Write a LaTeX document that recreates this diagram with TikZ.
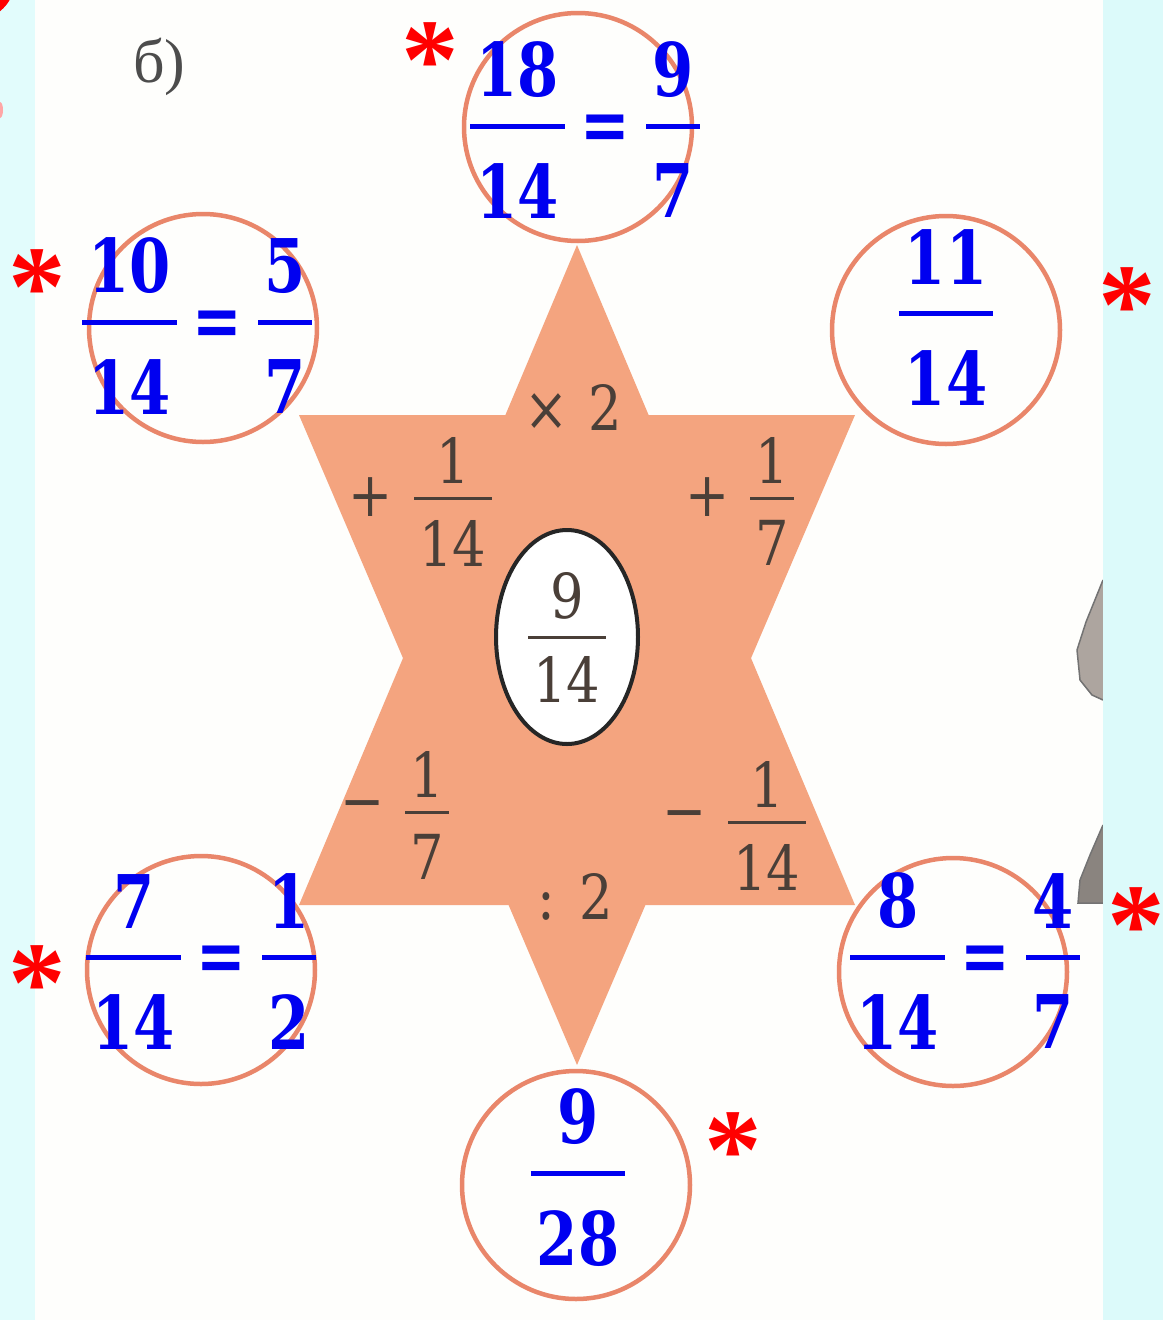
\documentclass[tikz,border=0pt]{standalone}
\usepackage{fontspec}
\usepackage{tikz}
\usetikzlibrary{shapes.geometric}
\newfontfamily\ansfont{DejaVu Serif}[FakeStretch=0.8]
\newfontfamily\opfont{DejaVu Serif}[FakeStretch=0.85]
\newfontfamily\markfont{Liberation Serif}
\definecolor{starfill}{HTML}{F4A47F}
\definecolor{ringcol}{HTML}{E9866A}
\definecolor{ansblue}{HTML}{0000F0}
\definecolor{inkgray}{HTML}{4A3F38}
\definecolor{leftband}{HTML}{E2FCFC}
\definecolor{rightband}{HTML}{DCFAFA}
\definecolor{paper}{HTML}{FEFEFC}
\definecolor{sketch}{HTML}{ADA59F}
% numerator, denominator, bar thickness, overhang, gap above bar, gap below bar
\newdimen\fracwd \newdimen\fracdrop
\newcommand{\fracstack}[6]{%
  \setbox0=\hbox{#1}\setbox2=\hbox{#2}%
  \fracwd=\wd0 \ifdim\wd2>\fracwd \fracwd=\wd2 \fi
  \advance\fracwd by #4\relax \advance\fracwd by #4\relax
  \fracdrop=\ht2 \advance\fracdrop by #6\relax
  \lower\fracdrop\vbox{\offinterlineskip
    \halign{\hfil##\hfil\cr\box0\cr\noalign{\kern#5}\vrule height #3 depth 0pt width \fracwd\cr\noalign{\kern#6}\box2\cr}}}
\newcommand{\ansfrac}[2]{\fracstack{#1}{#2}{5pt}{6pt}{26pt}{35pt}}
\newcommand{\opfrac}[2]{\fracstack{#1}{#2}{3pt}{5pt}{13pt}{21pt}}
\newcommand{\anseq}{\kern16pt\raisebox{-22pt}{=}\kern16pt}

\begin{document}
\begin{tikzpicture}[x=1pt,y=-1pt,
  ring/.style={circle, draw=ringcol, line width=4.5pt, fill=paper, minimum size=228pt, inner sep=0pt},
  answer/.style={ansblue, font=\ansfont\bfseries\fontsize{74}{90}\selectfont, inner sep=0pt, anchor=base},
  starmark/.style={red, font=\markfont\bfseries\fontsize{115}{130}\selectfont, inner sep=0pt, anchor=base},
  oplabel/.style={inkgray, font=\opfont\fontsize{62}{74}\selectfont, inner sep=0pt}]
\useasboundingbox (0,0) rectangle (1163,1320);
\fill[paper] (0,0) rectangle (1163,1320);
\fill[leftband] (0,0) rectangle (35,1320);
\fill[red] (-25,-20) circle (40);
\fill[red!35] (0,110) ellipse (3 and 8);
% bits of a drawing cut off at the right
\filldraw[fill=sketch, draw=black!55, line width=1.5pt] (1103,580) -- (1086,622) -- (1077,650) -- (1080,680) -- (1092,695) -- (1103,700);
\filldraw[fill=sketch!80!black, draw=black!55, line width=1.5pt] (1103,825) -- (1090,855) -- (1080,880) -- (1078,903) -- (1103,903);
\fill[rightband] (1103,0) rectangle (1163,1320);
\node[font=\markfont\fontsize{62}{70}\selectfont, text=black!70, anchor=base west, inner sep=0pt] (part) at (133,82) {б)};
% the star
\coordinate (up) at (577,245);
\coordinate (down) at (577,1065);
\fill[starfill] (up) -- (855,905) -- (299,905) -- cycle;
\fill[starfill] (down) -- (855,415) -- (299,415) -- cycle;
\node[ellipse, draw=black!85, line width=4pt, fill=white, minimum width=142pt, minimum height=214pt, inner sep=0pt] (centre) at (567,637) {};
\node[oplabel, anchor=base] (start) at (567,638.5) {\fracstack{9}{14}{3pt}{5pt}{16pt}{18pt}};
\node[oplabel] (times) at (573,407) {×\kern20pt2};
\node[oplabel] (divide) at (575,897) {:\kern24pt2};
\node[oplabel] (plus-a) at (371,497) {+};
\node[oplabel, anchor=base] (step-a) at (453,499.5) {\opfrac{1}{14}};
\node[oplabel] (plus-b) at (708,497) {+};
\node[oplabel, anchor=base] (step-b) at (772,499.5) {\opfrac{1}{7}};
\node[oplabel] (minus-a) at (363,812) {−};
\node[oplabel, anchor=base] (step-c) at (427,813.5) {\opfrac{1}{7}};
\node[oplabel] (minus-b) at (685,822) {−};
\node[oplabel, anchor=base] (step-d) at (767,823.5) {\opfrac{1}{14}};
% answer circles
\foreach \n/\x/\y in {top/578/127, ul/203/328, ur/946/330, ll/201/970, lr/953/972, bot/576/1185}
  \node[ring] (ring-\n) at (\x,\y) {};
\node[answer] (ans-top) at (585,128.5) {\ansfrac{18}{14}\anseq\ansfrac{9}{7}};
\node[answer] (ans-ul) at (197,324.5) {\ansfrac{10}{14}\anseq\ansfrac{5}{7}};
\node[answer] (ans-ur) at (946,315.5) {\ansfrac{11}{14}};
\node[answer] (ans-ll) at (201,959.5) {\ansfrac{7}{14}\anseq\ansfrac{1}{2}};
\node[answer] (ans-lr) at (965,959.5) {\ansfrac{8}{14}\anseq\ansfrac{4}{7}};
\node[answer] (ans-bot) at (578,1175.5) {\ansfrac{9}{28}};
\foreach \n/\x/\y in {top/430/45, ul/37/272, ur/1127/290, lr/1136/910, ll/37/968, bot/733/1135}
  \node[starmark] (mark-\n) at (\x,\y+53) {*};
\end{tikzpicture}
\end{document}
